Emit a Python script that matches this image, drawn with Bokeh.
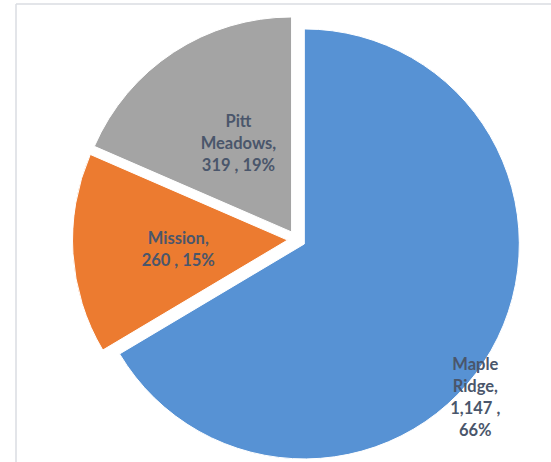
import numpy as np
from bokeh.plotting import figure
from bokeh.models import Range1d, ColumnDataSource
from bokeh.core.properties import value
from bokeh.embed import file_html
from bokeh.resources import INLINE

# ---- data ----
categories = ["Maple Ridge", "Mission", "Pitt Meadows"]
counts = [1147, 260, 319]
labels = ["Maple\nRidge,\n1,147 ,\n66%", "Mission,\n260 , 15%", "Pitt\nMeadows,\n319 , 19%"]
colors = ["#5792D4", "#EC7B30", "#A4A4A4"]

# ---- layout / style ----
W, H = 551, 462
cx, cy = 296, 223      # pie centre (data = pixels)
R = 215                # radius
explode = 9            # slice explosion distance
label_frac = [1.067, 0.51, 0.48]
label_turn = [-12.2, 1.2, -2.3]

vals = np.array(counts, dtype=float)
frac = vals / vals.sum()
cum = np.concatenate([[0], np.cumsum(frac)]) * 360.0
# clockwise from 12 o'clock -> anticlockwise math angles
start_cw = cum[:-1]
end_cw = cum[1:]
start_angle = np.radians(90 - end_cw)
end_angle = np.radians(90 - start_cw)
mid = np.radians(90 - (start_cw + end_cw) / 2)
xs = cx + explode * np.cos(mid)
ys = cy + explode * np.sin(mid)
la = mid + np.radians(label_turn)
lx = xs + R * np.array(label_frac) * np.cos(la)
ly = ys + R * np.array(label_frac) * np.sin(la)

src = ColumnDataSource(dict(x=xs, y=ys, sa=start_angle, ea=end_angle, color=colors,
                            lx=lx, ly=ly, label=labels, cat=categories))

p = figure(width=W, height=H, output_backend="svg", toolbar_location=None,
           x_range=Range1d(0, W), y_range=Range1d(0, H), min_border=0)
p.axis.visible = False
p.grid.visible = False
p.outline_line_color = None
p.background_fill_color = "white"

# chart frame (left and top edges visible in the reference)
p.segment(x0=[15.5, 15.5], y0=[0, H - 3.5], x1=[15.5, W + 5], y1=[H - 3.5, H - 3.5],
          line_color="#DADDE2", line_width=1.5)

p.wedge(x="x", y="y", radius=R, start_angle="sa", end_angle="ea",
        fill_color="color", line_color="white", line_width=1, source=src)

p.text(x="lx", y="ly", text="label", source=src, text_align="center", text_baseline="middle",
       text_font=value("Lato"), text_font_style="bold", text_font_size="16.5px",
       text_color="#4A566B", text_line_height=1.1)

open("out.html", "w").write(file_html(p, INLINE))
